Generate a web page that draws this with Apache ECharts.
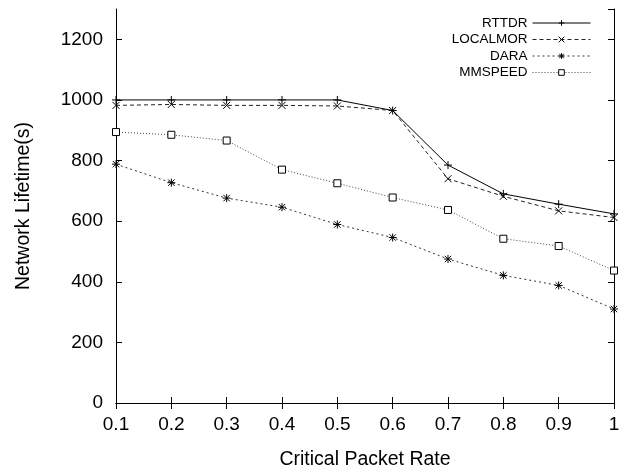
<!DOCTYPE html>
<html lang="en">
<head>
  <meta charset="UTF-8">
  <title>Network Lifetime</title>
  <script src="https://cdn.jsdelivr.net/npm/echarts@6/dist/echarts.min.js"></script>
  <style>
    html, body { margin: 0; padding: 0; background: #fff; }
    #main { width: 633px; height: 475px; }
  </style>
</head>
<body>
  <div id="main"></div>
  <script>
    // x 轴类别
    const rates = ['0.1', '0.2', '0.3', '0.4', '0.5', '0.6', '0.7', '0.8', '0.9', '1'];
    // 各协议的网络寿命
    const rttdr = [1000, 1000, 1000, 1000, 1000, 965, 785, 690, 656, 624];
    const localmor = [982, 985, 982, 982, 980, 965, 740, 682, 634, 612];
    const dara = [788, 727, 676, 646, 589, 546, 475, 421, 388, 310];
    const mmspeed = [894, 885, 866, 770, 725, 678, 637, 542, 518, 437];

    const font = 'Liberation Sans, Arial, sans-serif';

    // 符号
    const plusSym = 'path://M0,5L10,5M5,0L5,10';
    const crossSym = 'path://M0,0L10,10M10,0L0,10';
    const starSym = 'path://M1,1L9,9M9,1L1,9M0,5L10,5M5,0L5,10';

    function makeSeries(name, data, symbol, size, lineType, lineColor) {
      return {
        name: name,
        type: 'line',
        data: data,
        symbol: symbol,
        symbolSize: size,
        animation: false,
        itemStyle: {
          color: symbol === 'rect' ? '#fff' : '#000',
          borderColor: '#000',
          borderWidth: 1
        },
        lineStyle: { color: lineColor, width: 1, type: lineType }
      };
    }

    const chart = echarts.init(document.getElementById('main'));
    chart.setOption({
      animation: false,
      grid: { left: 116, right: 19, top: 9, bottom: 70 },
      legend: {
        orient: 'vertical',
        right: 37,
        top: 11,
        align: 'right',
        itemWidth: 58,
        itemHeight: 7,
        itemGap: 2.5,
        lineStyle: { width: 1 },
        itemStyle: { borderWidth: 1 },
        textStyle: { fontFamily: font, fontSize: 13.5, color: '#000', lineHeight: 14 },
        data: ['RTTDR', 'LOCALMOR', 'DARA', 'MMSPEED']
      },
      xAxis: [{
        type: 'category',
        data: rates,
        boundaryGap: false,
        name: 'Critical Packet Rate',
        nameLocation: 'middle',
        nameGap: 47,
        nameTextStyle: { fontFamily: font, fontSize: 19.5, color: '#000' },
        axisLine: { lineStyle: { color: '#000', width: 1 } },
        axisTick: { inside: true, length: 6, lineStyle: { color: '#000' } },
        axisLabel: { fontFamily: font, fontSize: 19, color: '#000', margin: 12 },
        splitLine: { show: false }
      }, {
        type: 'category',
        data: rates,
        boundaryGap: false,
        position: 'top',
        axisLine: { lineStyle: { color: '#000', width: 1 } },
        axisTick: { inside: true, length: 6, lineStyle: { color: '#000' } },
        axisLabel: { show: false },
        splitLine: { show: false }
      }],
      yAxis: [{
        type: 'value',
        min: 0,
        max: 1300,
        interval: 200,
        name: 'Network Lifetime(s)',
        nameLocation: 'middle',
        nameGap: 82,
        nameTextStyle: { fontFamily: font, fontSize: 19.5, color: '#000' },
        axisLine: { show: true, lineStyle: { color: '#000', width: 1 } },
        axisTick: { show: true, inside: true, length: 6, lineStyle: { color: '#000' } },
        axisLabel: {
          fontFamily: font, fontSize: 19, color: '#000', margin: 13, showMaxLabel: false,
          formatter: function (v) { return String(v); }
        },
        splitLine: { show: false }
      }, {
        type: 'value',
        min: 0,
        max: 1300,
        interval: 200,
        position: 'right',
        axisLine: { show: true, lineStyle: { color: '#000', width: 1 } },
        axisTick: { show: true, inside: true, length: 6, lineStyle: { color: '#000' } },
        axisLabel: { show: false },
        splitLine: { show: false }
      }],
      series: [
        makeSeries('RTTDR', rttdr, plusSym, 8, 'solid', '#000'),
        makeSeries('LOCALMOR', localmor, crossSym, 7, [4, 3], '#222'),
        makeSeries('DARA', dara, starSym, 8, [2, 3], '#333'),
        makeSeries('MMSPEED', mmspeed, 'rect', 7, [1, 2], '#444')
      ]
    });
  </script>
</body>
</html>
